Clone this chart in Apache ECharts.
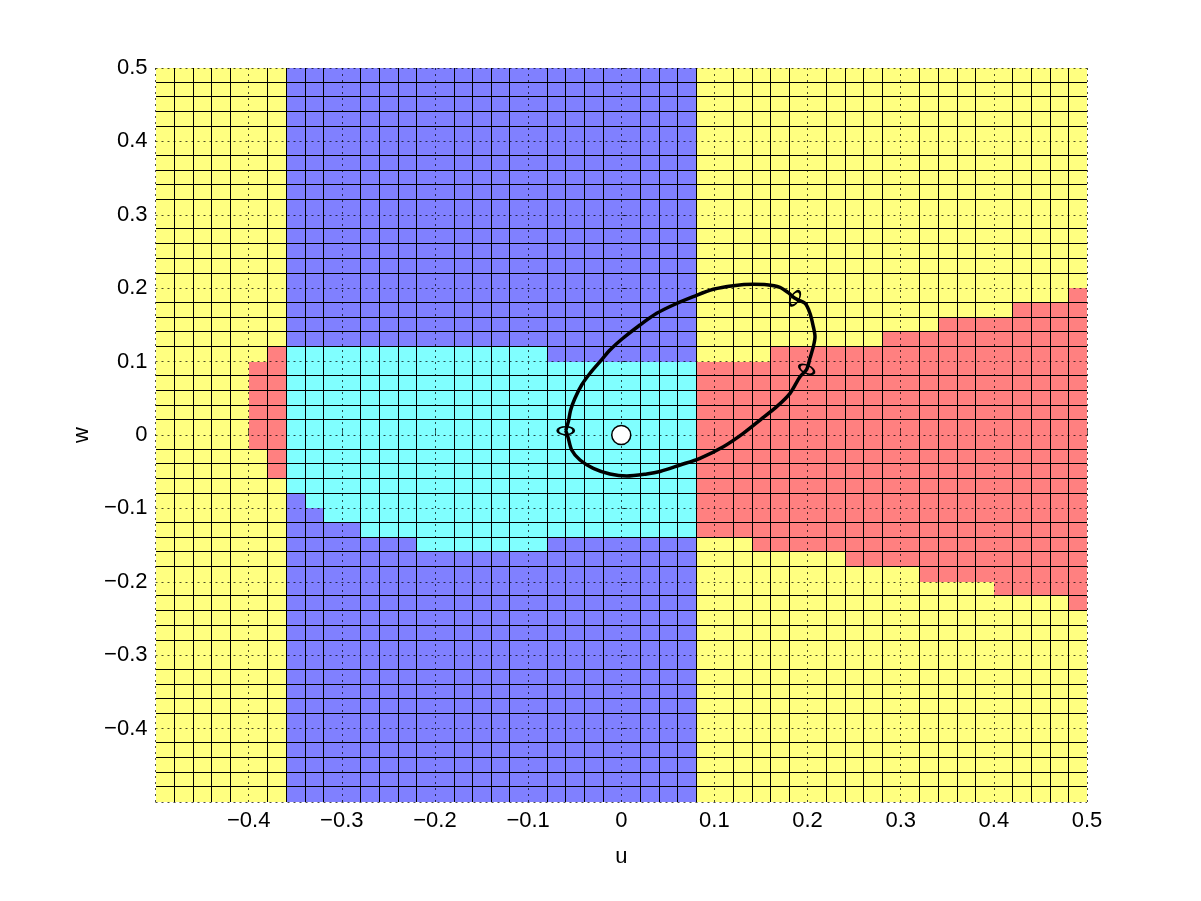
<!DOCTYPE html>
<html>
<head>
<meta charset="utf-8">
<script src="https://cdn.jsdelivr.net/npm/echarts@6/dist/echarts.min.js"></script>
<style>
  html, body { margin: 0; padding: 0; background: #fff; }
  #main { width: 1201px; height: 901px; }
</style>
</head>
<body>
<div id="main"></div>
<script>
// 50 x 50 cells, 0.02 wide, from u = -0.5 (left) and w = -0.5 (bottom)
// background class of each column: Y yellow, B blue
const baseClass = 'YYYYYYYBBBBBBBBBBBBBBBBBBBBBBYYYYYYYYYYYYYYYYYYYYY';
// class of the patch drawn over the background in each column ('-' = none)
const patchClass = '-----RRCCCCCCCCCCCCCCCCCCCCCCRRRRRRRRRRRRRRRRRRRRR';
// lower / upper w edge of that patch, per column
const patchBottom = [
  null, null, null, null, null, -0.02, -0.06, -0.08, -0.10, -0.12,
  -0.12, -0.14, -0.14, -0.14, -0.16, -0.16, -0.16, -0.16, -0.16, -0.16,
  -0.16, -0.14, -0.14, -0.14, -0.14, -0.14, -0.14, -0.14, -0.14, -0.14,
  -0.14, -0.14, -0.16, -0.16, -0.16, -0.16, -0.16, -0.18, -0.18, -0.18,
  -0.18, -0.20, -0.20, -0.20, -0.20, -0.22, -0.22, -0.22, -0.22, -0.24
];
const patchTop = [
  null, null, null, null, null, 0.10, 0.12, 0.12, 0.12, 0.12,
  0.12, 0.12, 0.12, 0.12, 0.12, 0.12, 0.12, 0.12, 0.12, 0.12,
  0.12, 0.10, 0.10, 0.10, 0.10, 0.10, 0.10, 0.10, 0.10, 0.10,
  0.10, 0.10, 0.10, 0.12, 0.12, 0.12, 0.12, 0.12, 0.12, 0.14,
  0.14, 0.14, 0.16, 0.16, 0.16, 0.16, 0.18, 0.18, 0.18, 0.20
];

// closed curve (u, w)
const curveU = [
  -0.0596, -0.0568, -0.0543, -0.0497, -0.0425, -0.0335, -0.0228, -0.0121, 0.0008, 0.0201,
  0.0381, 0.0559, 0.0773, 0.0988, 0.1203, 0.1418, 0.1561, 0.1704, 0.1793, 0.1865,
  0.1973, 0.2026, 0.2062, 0.2080, 0.2062, 0.2026, 0.1991, 0.1919, 0.1812, 0.1669,
  0.1490, 0.1310, 0.1096, 0.0845, 0.0631, 0.0416, 0.0273, 0.0059, -0.0121, -0.0300,
  -0.0443, -0.0532, -0.0572, -0.0596
];
const curveW = [
  0.0059, 0.0181, 0.0341, 0.0500, 0.0681, 0.0841, 0.0999, 0.1158, 0.1308, 0.1499,
  0.1658, 0.1771, 0.1884, 0.1985, 0.2034, 0.2053, 0.2048, 0.2012, 0.1939, 0.1862,
  0.1794, 0.1658, 0.1476, 0.1339, 0.1203, 0.1045, 0.0895, 0.0794, 0.0568, 0.0386,
  0.0204, 0.0023, -0.0159, -0.0317, -0.0409, -0.0497, -0.0531, -0.0559, -0.0531, -0.0454,
  -0.0341, -0.0204, -0.0027, 0.0059
];

// open elliptic markers on the curve and their tilt
const markU = [-0.0596, 0.1865, 0.1991];
const markW = [0.0059, 0.1862, 0.0895];
const markTilt = [0, 60, -25];

// fixed point at the origin
const originPt = [0, 0];

const colours = { Y: '#ffff80', B: '#8080ff', C: '#80ffff', R: '#ff8080' };
const step = 0.02;
const n = 50;

const cells = [];
for (let i = 0; i < n; i++) {
  const lo = patchBottom[i] == null ? null : Math.round((patchBottom[i] + 0.5) / step);
  const hi = patchTop[i] == null ? null : Math.round((patchTop[i] + 0.5) / step);
  for (let j = 0; j < n; j++) {
    let c = baseClass[i];
    if (lo != null && j >= lo && j < hi) c = patchClass[i];
    cells.push([-0.5 + i * step, -0.5 + j * step, c, i, j]);
  }
}

const curve = curveU.map((u, k) => [u, curveW[k]]);
const marks = markU.map((u, k) => ({ value: [u, markW[k]], symbolRotate: markTilt[k] }));

function fmt(v) {
  if (Math.abs(v) < 1e-9) return '0';
  return String(+v.toFixed(1)).replace('-', '\u2212');
}

const font = 'Liberation Sans, Arial, sans-serif';

function axis(name, gap) {
  return {
    type: 'value',
    min: -0.5,
    max: 0.5,
    interval: 0.1,
    z: 3,
    name: name,
    nameLocation: 'middle',
    nameGap: gap,
    nameTextStyle: { fontSize: 22, color: '#000', fontFamily: font },
    axisLine: { show: false },
    axisTick: { show: true, inside: true, length: 6, lineStyle: { color: 'rgba(0,0,0,0.6)' } },
    axisLabel: { showMinLabel: false, fontSize: 22, color: '#000', fontFamily: font, margin: 8, formatter: fmt },
    splitLine: { show: true, lineStyle: { color: 'rgba(0,0,0,0.7)', width: 1, type: [2, 4] } },
    minorTick: { show: false },
    minorSplitLine: { show: false }
  };
}

const chart = echarts.init(document.getElementById('main'));
chart.setOption({
  animation: false,
  backgroundColor: '#fff',
  grid: { left: 155.5, right: 114, top: 68, bottom: 99, outerBoundsMode: 'none' },
  xAxis: axis('u', 44),
  yAxis: axis('w', 50),
  series: [
    {
      type: 'custom',
      z: 1,
      data: cells,
      renderItem: function (params, api) {
        const u0 = api.value(0), w0 = api.value(1);
        const i = api.value(3), j = api.value(4);
        const a = api.coord([u0, w0 + step]);
        const b = api.coord([u0 + step, w0]);
        const x0 = Math.round(a[0]), y0 = Math.round(a[1]);
        const x1 = Math.round(b[0]), y1 = Math.round(b[1]);
        const kids = [{
          type: 'rect',
          shape: { x: x0, y: y0, width: x1 - x0, height: y1 - y0 },
          style: { fill: colours[api.value(2)] }
        }];
        // cell edges (major grid positions are left to the dotted grid)
        if (i % 5 !== 0) {
          kids.push({ type: 'line', shape: { x1: x0 + 0.5, y1: y0, x2: x0 + 0.5, y2: y1 },
            style: { stroke: '#000', lineWidth: 1 } });
        }
        if (j % 5 !== 0) {
          kids.push({ type: 'line', shape: { x1: x0, y1: y1 - 0.5, x2: x1, y2: y1 - 0.5 },
            style: { stroke: '#000', lineWidth: 1 } });
        }
        return { type: 'group', children: kids };
      },
      encode: { x: 0, y: 1 }
    },
    {
      type: 'line',
      z: 5,
      data: curve,
      smooth: 0.3,
      showSymbol: false,
      lineStyle: { color: '#000', width: 3.5 }
    },
    {
      type: 'scatter',
      z: 6,
      data: marks,
      symbol: 'circle',
      symbolSize: [16, 8],
      itemStyle: { color: 'rgba(0,0,0,0)', borderColor: '#000', borderWidth: 2, opacity: 1 }
    },
    {
      type: 'scatter',
      z: 6,
      data: [originPt],
      symbol: 'circle',
      symbolSize: 19,
      itemStyle: { color: '#fff', borderColor: '#000', borderWidth: 1.5, opacity: 1 }
    }
  ]
});
</script>
</body>
</html>
